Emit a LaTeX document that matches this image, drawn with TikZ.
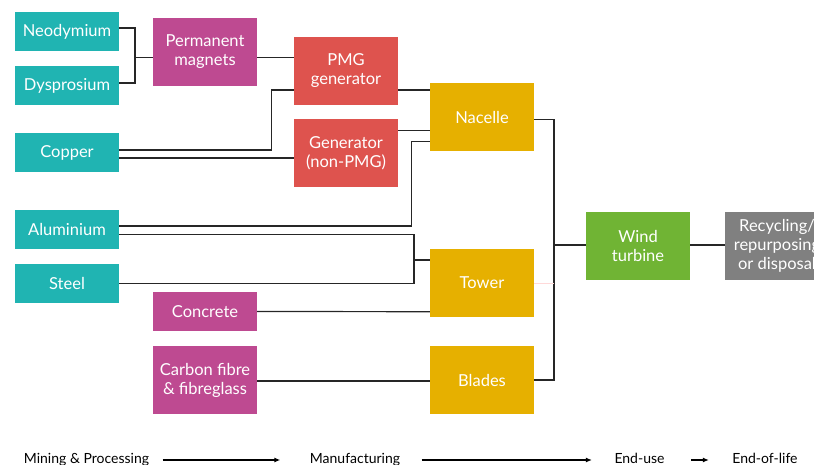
\documentclass[tikz,border=0pt]{standalone}
\usepackage{fontspec}
\setmainfont{Lato}
\usetikzlibrary{arrows.meta}
\definecolor{mineral}{RGB}{32,180,178}
\definecolor{material}{RGB}{190,74,145}
\definecolor{generator}{RGB}{222,83,78}
\definecolor{component}{RGB}{230,176,0}
\definecolor{turbine}{RGB}{112,180,52}
\definecolor{endlife}{RGB}{128,128,128}
\tikzset{
  box/.style={rectangle,inner sep=0pt,text=white,align=center,
    minimum width=104pt,font=\fontsize{16.5}{19}\selectfont},
  short/.style={box,minimum height=39pt},
  tall/.style={box,minimum height=68pt},
  link/.style={draw=black!85,line width=1.2pt},
  stage/.style={anchor=base,font=\fontsize{14}{16}\selectfont},
  flow/.style={draw=black,line width=1.2pt,-{Latex[length=6pt,width=5pt]}}
}
\begin{document}
\begin{tikzpicture}[x=1pt,y=-1pt]
    \useasboundingbox (0,0) rectangle (814,465);

    % — Raw materials
    \node [short,fill=mineral] (neo)    at (67, 31.5)  {Neodymium};
    \node [short,fill=mineral] (dys)    at (67, 85.5)  {Dysprosium};
    \node [short,fill=mineral] (copper) at (67, 152.5) {Copper};
    \node [short,fill=mineral] (alu)    at (67, 229.5) {Aluminium};
    \node [short,fill=mineral] (steel)  at (67, 283.5) {Steel};

    % — Processed materials
    \node [tall,fill=material]  (magnets)  at (205, 52)  {Permanent\\magnets};
    \node [short,fill=material] (concrete) at (205, 311.5) {Concrete};
    \node [tall,fill=material]  (carbon)   at (205, 380) {Carbon fibre\\\& fibreglass};

    % — Generators
    \node [tall,fill=generator] (pmg) at (346, 71)  {PMG\\generator};
    \node [tall,fill=generator] (gen) at (346, 153) {Generator\\(non-PMG)};

    % — Components
    \node [tall,fill=component] (nacelle) at (482, 117) {Nacelle};
    \node [tall,fill=component] (tower)   at (482, 283) {Tower};
    \node [tall,fill=component] (blades)  at (482, 380) {Blades};

    % — End-use and end-of-life
    \node [tall,fill=turbine] (wind)    at (638, 246) {Wind\\turbine};
    \node [tall,fill=endlife] (recycle) at (777, 246) {Recycling/\\repurposing\\or disposal};

    % — Junctions
    \coordinate (jmag)   at (135, 57.7);
    \coordinate (jtower) at (414, 260);
    \coordinate (jwind)  at (554, 245);

    % — Links into the magnets and generators
    \draw [link] ([yshift=3.5pt]neo.east) -| (jmag) |- ([yshift=2.5pt]dys.east);
    \draw [link] (jmag) -- ([yshift=-5.7pt]magnets.west);
    \draw [link] ([yshift=-5.7pt]magnets.east) -- ([yshift=13.3pt]pmg.west);
    \draw [link] ([yshift=2.5pt]copper.east) -| ([xshift=-22pt,yshift=-19pt]pmg.west)
                 -- ([yshift=-19pt]pmg.west);
    \draw [link] ([yshift=-5.5pt]copper.east) -- ([yshift=-5pt]gen.west);

    % — Links into the components
    \draw [link] ([yshift=-19pt]pmg.east) -- ([yshift=27pt]nacelle.west);
    \draw [link] ([yshift=22.3pt]gen.east) -- ([yshift=-13.7pt]nacelle.west);
    \draw [link] ([yshift=3.5pt]alu.east) -| ([xshift=-18pt,yshift=-24.7pt]nacelle.west)
                 -- ([yshift=-24.7pt]nacelle.west);
    \draw [link] ([yshift=-5.2pt]alu.east) -| (jtower) |- (steel.east);
    \draw [link] (jtower) -- ([yshift=23pt]tower.west);
    \draw [link] (concrete.east) -- ([yshift=-28.7pt]tower.west);
    \draw [link] ([yshift=-1pt]carbon.east) -- ([yshift=-1pt]blades.west);

    % — Components into the turbine
    \draw [link] ([yshift=-2.7pt]nacelle.east) -| (jwind) |- (blades.east);
    \draw [draw=red!15,line width=0.8pt] (tower.east) -- (tower.east -| jwind);
    \draw [link] (jwind) -- ([yshift=1pt]wind.west);
    \draw [link] ([yshift=1pt]wind.east) -- ([yshift=1pt]recycle.west);

    % — Stages along the bottom
    \node [stage] (mining) at (86.5, 463)  {Mining \& Processing};
    \node [stage] (manu)   at (355, 463)   {Manufacturing};
    \node [stage] (use)    at (639.5, 463) {End-use};
    \node [stage] (eol)    at (765, 463)   {End-of-life};
    \draw [flow] ([xshift=10pt]mining.east |- 0,460) -- ([xshift=-26pt]manu.west |- 0,460);
    \draw [flow] ([xshift=18pt]manu.east |- 0,460) -- ([xshift=-19pt]use.west |- 0,460);
    \draw [flow] ([xshift=23pt]use.east |- 0,460) -- ([xshift=-20pt]eol.west |- 0,460);
\end{tikzpicture}
\end{document}
